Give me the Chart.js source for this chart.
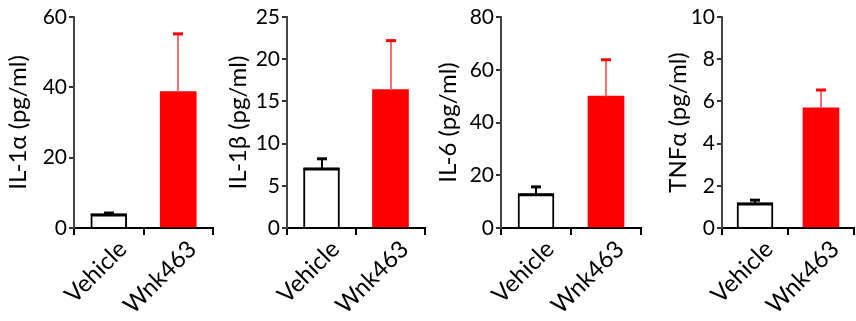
<!DOCTYPE html>
<html>
<head>
<meta charset="utf-8">
<script src="https://cdn.jsdelivr.net/npm/chart.js@4"></script>
<style>
  body { margin: 0; background: #fff; width: 856px; height: 321px; position: relative; overflow: hidden; }
  canvas { position: absolute; top: 0; }
</style>
</head>
<body>
<canvas id="g1" width="215" height="321" style="left:0px"></canvas>
<canvas id="g2" width="207" height="321" style="left:220px"></canvas>
<canvas id="g3" width="213" height="321" style="left:430px"></canvas>
<canvas id="g4" width="196" height="321" style="left:660px"></canvas>
<script>
// Datos
const categorias = ['Vehicle', 'Wnk463'];

const il1a = [4.0, 38.8];
const il1aErr = [0.25, 16.4];
const il1aTicks = [0, 20, 40, 60];

const il1b = [7.1, 16.4];
const il1bErr = [1.1, 5.8];
const il1bTicks = [0, 5, 10, 15, 20, 25];

const il6 = [13.0, 50.0];
const il6Err = [2.6, 13.8];
const il6Ticks = [0, 20, 40, 60, 80];

const tnfa = [1.19, 5.7];
const tnfaErr = [0.13, 0.84];
const tnfaTicks = [0, 2, 4, 6, 8, 10];

const fuente = "Lato, 'Open Sans', sans-serif";

// Barras de error (SEM) dibujadas con las escalas del gráfico
const barrasError = {
    id: 'barrasError',
    afterDatasetsDraw(chart) {
        const ctx = chart.ctx;
        const escalaY = chart.scales.y;
        const meta = chart.getDatasetMeta(0);
        const valores = chart.data.datasets[0].data;
        const errores = chart.options.plugins.barrasError.errores;
        meta.data.forEach((barra, i) => {
            const x = Math.round(barra.x);
            const arriba = escalaY.getPixelForValue(valores[i] + errores[i]);
            const base = escalaY.getPixelForValue(valores[i]);
            const esRojo = i === 1;
            ctx.save();
            ctx.lineWidth = 2;
            ctx.strokeStyle = esRojo ? '#ff6f6f' : '#000';
            ctx.beginPath();
            ctx.moveTo(x, base);
            ctx.lineTo(x, arriba);
            ctx.stroke();
            ctx.lineWidth = 3;
            ctx.strokeStyle = esRojo ? '#ff0000' : '#000';
            ctx.beginPath();
            ctx.moveTo(x - 5, arriba);
            ctx.lineTo(x + 5, arriba);
            ctx.stroke();
            if (!esRojo) {
                // borde superior más grueso en la barra blanca
                ctx.lineWidth = 3;
                ctx.beginPath();
                ctx.moveTo(barra.x - barra.width / 2, base + 1);
                ctx.lineTo(barra.x + barra.width / 2, base + 1);
                ctx.stroke();
            }
            ctx.restore();
        });
    }
};

function crearPanel(id, valores, errores, ticks, titulo, anchoEje) {
    const ctx = document.getElementById(id).getContext('2d');
    const max = ticks[ticks.length - 1];
    const paso = ticks[1] - ticks[0];
    return new Chart(ctx, {
        type: 'bar',
        data: {
            labels: categorias,
            datasets: [{
                data: valores,
                backgroundColor: ['#ffffff', '#ff0000'],
                borderColor: ['#000000', '#ff0000'],
                borderWidth: [2, 0],
                borderSkipped: 'bottom',
                barThickness: 36
            }]
        },
        options: {
            responsive: false,
            animation: false,
            layout: { padding: { top: 17, right: 2, left: 0, bottom: 0 } },
            plugins: {
                legend: { display: false },
                tooltip: { enabled: false },
                barrasError: { errores: errores }
            },
            scales: {
                x: {
                    offset: true,
                    afterFit: escala => { escala.height = 93; },
                    grid: { display: true, drawOnChartArea: false, drawTicks: true, tickLength: 7, color: '#000', lineWidth: 2 },
                    border: { display: true, color: '#000', width: 2 },
                    ticks: {
                        color: '#000',
                        font: { family: fuente, size: 24 },
                        minRotation: 45,
                        maxRotation: 45,
                        labelOffset: 14,
                        padding: 0
                    }
                },
                y: {
                    min: 0,
                    max: max,
                    afterFit: escala => { escala.width = anchoEje; },
                    afterBuildTicks: escala => { escala.ticks = ticks.map(v => ({ value: v })); },
                    grid: { display: true, drawOnChartArea: false, drawTicks: true, tickLength: 5, color: '#333', lineWidth: 2 },
                    border: { display: true, color: '#444', width: 2 },
                    ticks: {
                        stepSize: paso,
                        color: '#000',
                        font: { family: fuente, size: 21 },
                        padding: 2
                    },
                    title: {
                        display: true,
                        text: titulo,
                        color: '#000',
                        font: { family: fuente, size: 24 },
                        padding: { top: 4, bottom: 2 }
                    }
                }
            }
        },
        plugins: [barrasError]
    });
}

crearPanel('g1', il1a, il1aErr, il1aTicks, 'IL-1α (pg/ml)', 74);
crearPanel('g2', il1b, il1bErr, il1bTicks, 'IL-1β (pg/ml)', 67);
crearPanel('g3', il6, il6Err, il6Ticks, 'IL-6 (pg/ml)', 71);
crearPanel('g4', tnfa, tnfaErr, tnfaTicks, 'TNFα (pg/ml)', 62);
</script>
</body>
</html>
